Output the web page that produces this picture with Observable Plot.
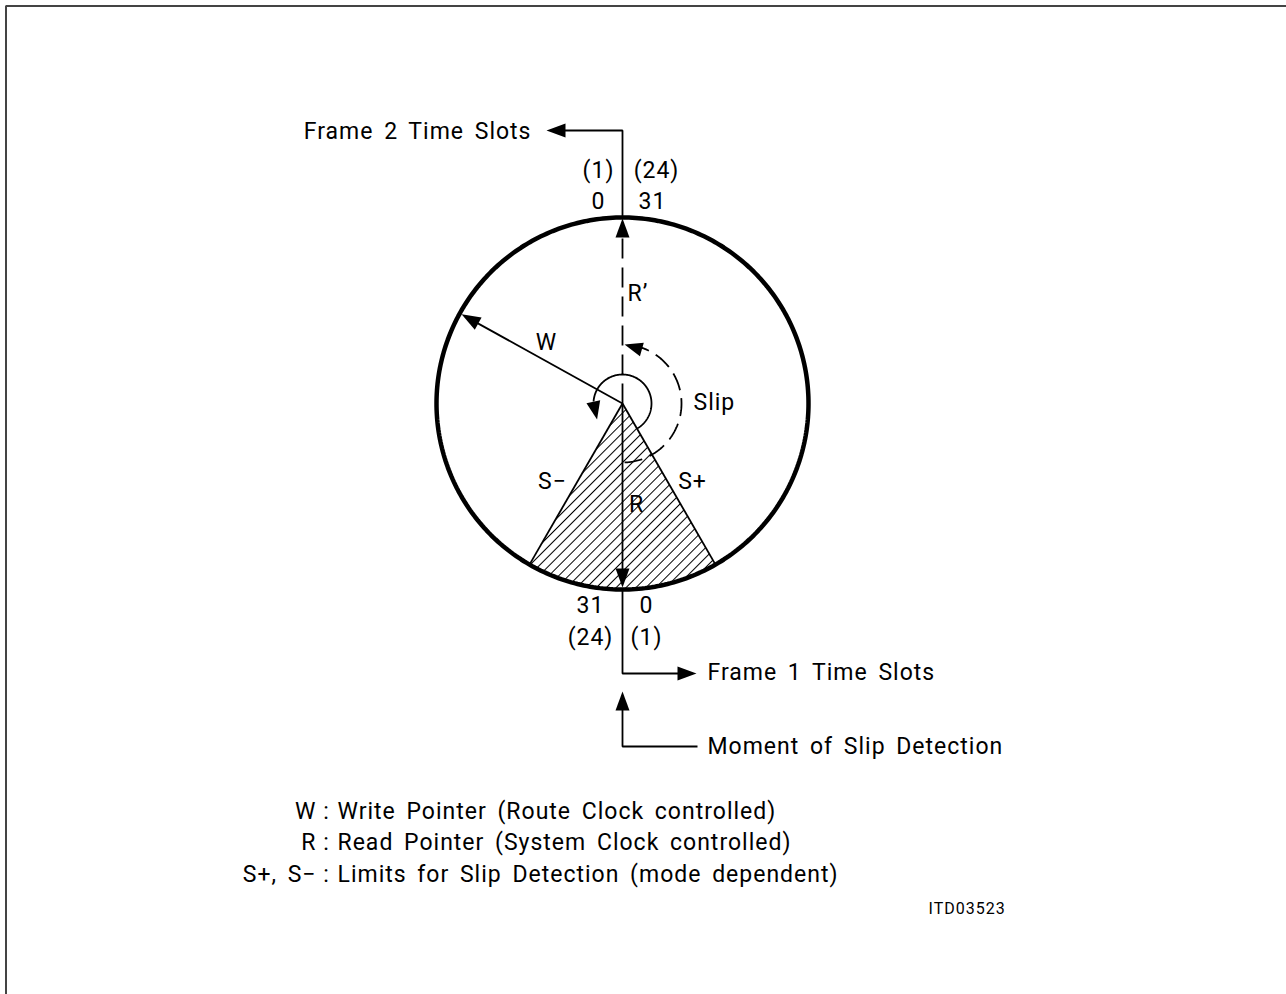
<!DOCTYPE html>
<html>
<head>
<meta charset="utf-8">
<script src="https://cdn.jsdelivr.net/npm/d3@7"></script>
<script src="https://cdn.jsdelivr.net/npm/@observablehq/plot@0.6"></script>
<style>
  html, body { margin: 0; padding: 0; background: #fff; }
  #chart svg text { letter-spacing: 1px; word-spacing: 4px; }
</style>
</head>
<body>
<div id="chart"></div>
<script>
// ---------------- data ----------------
const frameLabels   = ["Frame 2 Time Slots", "Frame 1 Time Slots"];
const frame2Slots   = ["0", "31"];        // left, right (top of ring)
const frame2T1      = ["(1)", "(24)"];
const frame1Slots   = ["31", "0"];        // left, right (bottom of ring)
const frame1T1      = ["(24)", "(1)"];
const pointerNames  = ["R’", "R", "W"];
const pointerAngles = [0, 180, 299];      // degrees, clockwise from top
const limitNames    = ["S+", "S−"];
const limitAngles   = [150, 210];
const slipLabel     = "Slip";
const detectionLabel = "Moment of Slip Detection";
const legendKeys    = ["W", "R", "S+, S−"];
const legendTexts   = [
  "Write Pointer (Route Clock controlled)",
  "Read Pointer (System Clock controlled)",
  "Limits for Slip Detection (mode dependent)"
];
const figureId = "ITD03523";

// ---------------- layout ----------------
const W = 1286, H = 994;
const cx = 622, cy = 403, R = 186;
const rad = d => d * Math.PI / 180;
const P = (deg, r) => [cx + r * Math.sin(rad(deg)), cy - r * Math.cos(rad(deg))];
const arc = (a0, a1, r) => {
  const n = Math.ceil(Math.abs(a1 - a0));
  return d3.range(n + 1).map(i => P(a0 + (a1 - a0) * i / n, r));
};
const head = (L, w) => ({draw(ctx) { ctx.moveTo(0, 0); ctx.lineTo(-w / 2, L); ctx.lineTo(w / 2, L); ctx.closePath(); }});

const aR = pointerAngles[pointerNames.indexOf("R’")];
const aRd = pointerAngles[pointerNames.indexOf("R")];
const aW = pointerAngles[pointerNames.indexOf("W")];
const [aSp, aSm] = limitAngles;

const FONT = "Roboto";
const FS = 23;

// geometry
const ring = arc(0, 360, R);
const wedge = [[cx, cy], ...arc(aSp, aSm, R), [cx, cy]];
const topLeader = [P(aR, R), [cx, 130], [562, 130]];
const botLeader = [P(aRd, R), [cx, 673], [680, 673]];
const momentLeader = [[cx, 706], [cx, 746], [697, 746]];
const solidSegs = [
  [[cx, cy], P(aW, 172)],
  [[cx, cy], P(aRd, 172)],
  [[cx, cy], P(aSp, R)],
  [[cx, cy], P(aSm, R)]
];
const dashedR = [[cx, cy], P(aR, 168)];
const smallArc = arc(aSp, -86, 29);
const slipArc = arc(178, 18, 59);

const arrows = [
  {p: [546, 130], dir: 270, big: true},
  {p: P(aR, R - 1), dir: 0, big: true},
  {p: P(aRd, R - 2), dir: 180, big: true},
  {p: P(aW, R - 2), dir: aW, big: true},
  {p: [696, 673], dir: 90, big: true},
  {p: [cx, 691], dir: 0, big: true},
  {p: P(238, 30), dir: 168, big: false},
  {p: P(2, 59), dir: 286, big: false}
];

// labels
const startLabels = [
  {t: frameLabels[1], x: 707, y: 672},
  {t: detectionLabel, x: 707, y: 746},
  {t: pointerNames[0], x: 627, y: 293},
  {t: slipLabel, x: 693, y: 402}
];
const middleLabels = [
  {t: pointerNames[2], x: 546, y: 342},
  {t: pointerNames[1], x: 636, y: 504},
  {t: limitNames[1], x: 552, y: 481},
  {t: limitNames[0], x: 692, y: 481},
  {t: frame2Slots[0], x: cx - 24, y: 201},
  {t: frame2Slots[1], x: cx + 30, y: 201},
  {t: frame2T1[0], x: cx - 24, y: 170},
  {t: frame2T1[1], x: cx + 34, y: 170},
  {t: frame1Slots[0], x: cx - 32, y: 605},
  {t: frame1Slots[1], x: cx + 24, y: 605},
  {t: frame1T1[0], x: cx - 32, y: 637},
  {t: frame1T1[1], x: cx + 24, y: 637}
];
const legendRows = legendKeys.map((k, i) => ({k, t: legendTexts[i], y: 811 + i * 31.5}));

const line = (pts, o = {}) => Plot.line(pts, {x: d => d[0], y: d => d[1], stroke: "black", strokeWidth: 1.8, strokeLinejoin: "miter", strokeLinecap: "butt", ...o});

const svg = Plot.plot({
  width: W, height: H, margin: 0,
  x: {domain: [0, W], range: [0, W], axis: null},
  y: {domain: [0, H], range: [0, H], axis: null},
  marks: [
    line([[5.5, H], [5.5, 5.5], [W, 5.5]], {stroke: "#444", strokeWidth: 2}),
    line(wedge, {stroke: "none", fill: "url(#hatch)"}),
    ...solidSegs.map(s => line(s)),
    line(dashedR, {strokeDasharray: "20,9"}),
    line(smallArc),
    line(slipArc, {strokeDasharray: "18,8"}),
    line(topLeader),
    line(botLeader),
    line(momentLeader),
    line(ring, {strokeWidth: 4.5}),
    Plot.dot(arrows.filter(d => d.big), {x: d => d.p[0], y: d => d.p[1], rotate: "dir", symbol: head(19, 14), fill: "black", stroke: "none"}),
    Plot.dot(arrows.filter(d => !d.big), {x: d => d.p[0], y: d => d.p[1], rotate: "dir", symbol: head(18, 14), fill: "black", stroke: "none"}),
    Plot.text([{t: frameLabels[0], x: 531, y: 131}], {x: "x", y: "y", text: "t", textAnchor: "end", fontFamily: FONT, fontSize: FS}),
    Plot.text(startLabels, {x: "x", y: "y", text: "t", textAnchor: "start", fontFamily: FONT, fontSize: FS}),
    Plot.text(middleLabels, {x: "x", y: "y", text: "t", textAnchor: "middle", fontFamily: FONT, fontSize: FS}),
    Plot.text(legendRows, {x: 316, y: "y", text: "k", textAnchor: "end", fontFamily: FONT, fontSize: FS}),
    Plot.text(legendRows, {x: 326, y: "y", text: () => ":", textAnchor: "middle", fontFamily: FONT, fontSize: FS}),
    Plot.text(legendRows, {x: 337, y: "y", text: "t", textAnchor: "start", fontFamily: FONT, fontSize: FS}),
    Plot.text([figureId], {x: 928, y: 908, text: d => d, textAnchor: "start", fontFamily: FONT, fontSize: 16})
  ]
});

d3.select(svg).insert("defs", ":first-child").html(
  '<pattern id="hatch" patternUnits="userSpaceOnUse" width="7" height="7" patternTransform="rotate(45)">' +
  '<line x1="3.5" y1="-1" x2="3.5" y2="8" stroke="black" stroke-width="1"/></pattern>'
);
document.getElementById("chart").appendChild(svg);
</script>
</body>
</html>
